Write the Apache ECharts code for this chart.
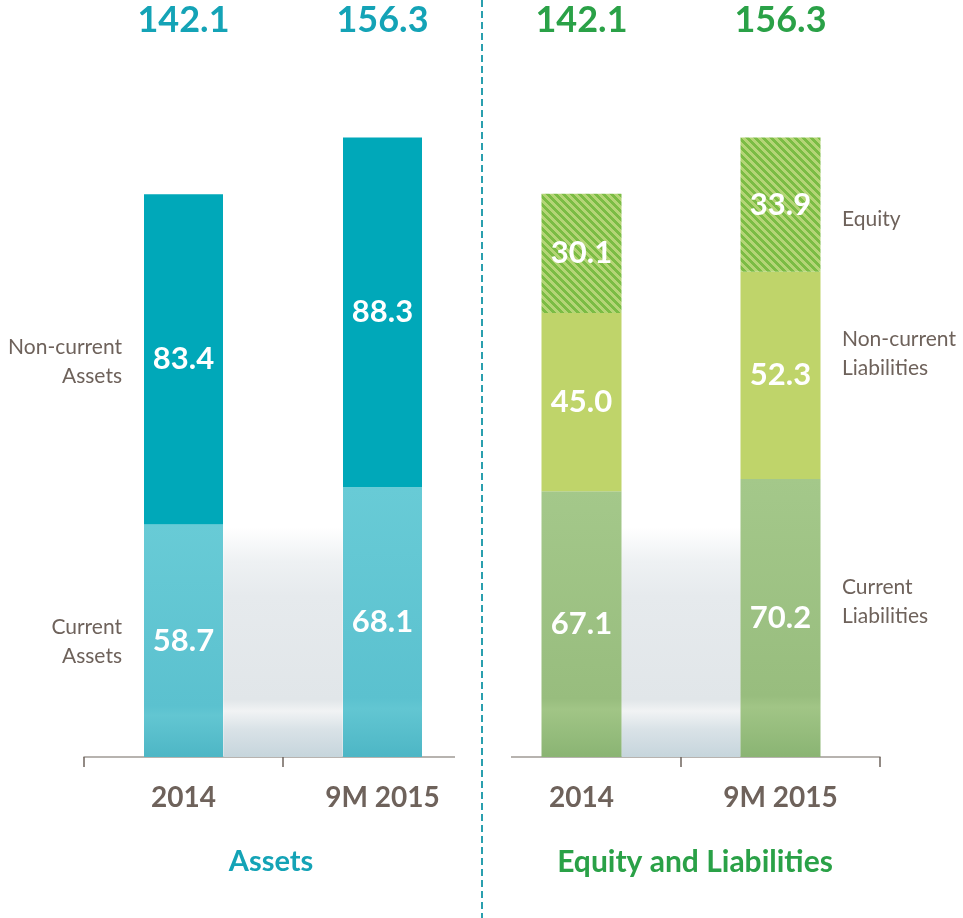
<!DOCTYPE html>
<html>
<head>
<meta charset="utf-8">
<script src="https://cdn.jsdelivr.net/npm/echarts@6/dist/echarts.min.js"></script>
<style>
html,body{margin:0;padding:0;background:#fff}
#container{width:963px;height:918px}
</style>
</head>
<body>
<div id="container"></div>
<script>
// data
var categories = ['2014', '9M 2015'];
var assetTotals = [142.1, 156.3];
var liabTotals = [142.1, 156.3];
var currentAssets = [58.7, 68.1];
var nonCurrentAssets = [83.4, 88.3];
var currentLiabilities = [67.1, 70.2];
var nonCurrentLiabilities = [45.0, 52.3];
var equity = [30.1, 33.9];
var bandTop = 58; // height of the grey shading between bars
var assetNames = ['Current\nAssets', 'Non-current\nAssets'];
var liabNames = ['Current\nLiabilities', 'Non-current\nLiabilities', 'Equity'];

var teal = '#14a3b6';
var green = '#2aa147';
var grey = '#6e625b';

// hatch pattern for equity
var stripe = document.createElement('canvas');
stripe.width = 8; stripe.height = 8;
var ctx = stripe.getContext('2d');
ctx.fillStyle = '#b4d576';
ctx.fillRect(0, 0, 8, 8);
ctx.fillStyle = '#7bbc44';
for (var x = 0; x < 8; x++) {
  for (var y = 0; y < 8; y++) {
    var d = ((x - y) % 8 + 8) % 8;
    if (d < 4) ctx.fillRect(x, y, 1, 1);
  }
}

function vgrad(stops) {
  return new echarts.graphic.LinearGradient(0, 0, 0, 1, stops);
}

var bandColor = vgrad([
  {offset: 0, color: 'rgba(255,255,255,1)'},
  {offset: 0.15, color: '#eef1f3'},
  {offset: 0.3, color: '#e6eaed'},
  {offset: 0.75, color: '#e1e6e9'},
  {offset: 0.8, color: '#f1f3f4'},
  {offset: 0.88, color: '#d9e2e7'},
  {offset: 1, color: '#c6d5dc'}
]);

var valueLabel = {
  show: true,
  position: 'inside',
  color: '#fff',
  fontFamily: 'Lato',
  fontWeight: 'bold',
  fontSize: 31,
  formatter: function (p) { return p.value.toFixed(1); }
};

function bottomAxis(idx) {
  return {
    gridIndex: idx, type: 'category', data: categories,
    axisLine: {lineStyle: {color: '#a09a95', width: 1.5}},
    axisTick: {show: true, length: 10, lineStyle: {color: '#6f645d', width: 1.5}},
    axisLabel: {margin: 27, fontFamily: 'Lato', fontWeight: 'bold', fontSize: 28, color: grey}
  };
}
function topAxis(idx, totals, color) {
  return {
    gridIndex: idx, type: 'category', position: 'top', data: categories,
    axisLine: {show: false}, axisTick: {show: false},
    axisLabel: {
      margin: 6, fontFamily: 'Lato', fontWeight: 'bold', fontSize: 36, color: color,
      formatter: function (v, i) { return totals[i].toFixed(1); }
    }
  };
}

// grey band drawn between the two bars of a grid
function bandSeries(idx) {
  return {
    type: 'custom', xAxisIndex: idx, yAxisIndex: idx, z: 1, silent: true,
    data: [[0, bandTop]],
    renderItem: function (params, api) {
      var half = api.size([1, 0])[0] * 0.2;
      var p0 = api.coord([0, api.value(1)]);
      var p1 = api.coord([1, 0]);
      return {
        type: 'rect',
        shape: {x: p0[0] + half, y: p0[1], width: p1[0] - p0[0] - 2 * half, height: p1[1] - p0[1]},
        style: {fill: bandColor}
      };
    }
  };
}

var dom = document.getElementById('container');
var myChart = echarts.init(dom);
var option = {
  animation: false,
  grid: [
    {left: 84, right: 481, top: 44, bottom: 161},
    {left: 482, right: 83, top: 44, bottom: 161}
  ],
  xAxis: [
    bottomAxis(0), bottomAxis(1),
    topAxis(0, assetTotals, teal), topAxis(1, liabTotals, green)
  ],
  yAxis: [
    {gridIndex: 0, type: 'value', min: 0, max: 180, show: false},
    {gridIndex: 1, type: 'value', min: 0, max: 180, show: false}
  ],
  series: [
    bandSeries(0),
    bandSeries(1),
    {
      name: assetNames[0], type: 'bar', stack: 'a', xAxisIndex: 0, yAxisIndex: 0,
      barWidth: 79, data: currentAssets, label: valueLabel,
      itemStyle: {color: vgrad([
        {offset: 0, color: '#68cbd6'}, {offset: 0.78, color: '#5bc1cf'},
        {offset: 0.82, color: '#62c6d2'}, {offset: 1, color: '#4db6c5'}
      ])}
    },
    {
      name: assetNames[1], type: 'bar', stack: 'a', xAxisIndex: 0, yAxisIndex: 0,
      barWidth: 79, data: nonCurrentAssets, label: valueLabel,
      itemStyle: {color: '#00a8b9'}
    },
    {
      name: liabNames[0], type: 'bar', stack: 'l', xAxisIndex: 1, yAxisIndex: 1,
      barWidth: 80, data: currentLiabilities, label: valueLabel,
      itemStyle: {color: vgrad([
        {offset: 0, color: '#a4c88a'}, {offset: 0.78, color: '#98bd7e'},
        {offset: 0.82, color: '#a1c586'}, {offset: 1, color: '#8ab473'}
      ])}
    },
    {
      name: liabNames[1], type: 'bar', stack: 'l', xAxisIndex: 1, yAxisIndex: 1,
      barWidth: 80, data: nonCurrentLiabilities, label: valueLabel,
      itemStyle: {color: '#bfd46a'}
    },
    {
      name: liabNames[2], type: 'bar', stack: 'l', xAxisIndex: 1, yAxisIndex: 1,
      barWidth: 80, data: equity, label: valueLabel,
      itemStyle: {color: {image: stripe, repeat: 'repeat'}}
    }
  ],
  graphic: [
    {type: 'rect', z: 100, shape: {x: 455, y: 748, width: 56, height: 22}, style: {fill: '#fff'}},
    {type: 'line', z: 101, shape: {x1: 482, y1: 0, x2: 482, y2: 918},
      style: {stroke: '#2a9fae', lineWidth: 2, lineDash: [7, 4]}},
    {type: 'text', x: 271, y: 862, style: {text: 'Assets', align: 'center', verticalAlign: 'middle',
      fill: teal, font: 'bold 29px Lato'}},
    {type: 'text', x: 695, y: 862, style: {text: 'Equity and Liabilities', align: 'center', verticalAlign: 'middle',
      fill: green, font: 'bold 30px Lato'}},
    {type: 'text', x: 122, y: 362, style: {text: assetNames[1], align: 'right', verticalAlign: 'middle',
      fill: grey, font: '21px Lato', lineHeight: 29}},
    {type: 'text', x: 122, y: 642, style: {text: assetNames[0], align: 'right', verticalAlign: 'middle',
      fill: grey, font: '21px Lato', lineHeight: 29}},
    {type: 'text', x: 842, y: 219, style: {text: liabNames[2], align: 'left', verticalAlign: 'middle',
      fill: grey, font: '21px Lato', lineHeight: 29}},
    {type: 'text', x: 842, y: 354, style: {text: liabNames[1], align: 'left', verticalAlign: 'middle',
      fill: grey, font: '21px Lato', lineHeight: 29}},
    {type: 'text', x: 842, y: 602, style: {text: liabNames[0], align: 'left', verticalAlign: 'middle',
      fill: grey, font: '21px Lato', lineHeight: 29}}
  ]
};
myChart.setOption(option);
</script>
</body>
</html>
